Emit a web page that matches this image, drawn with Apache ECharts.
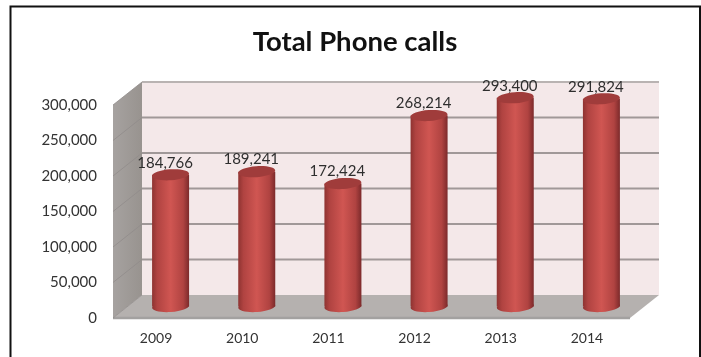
<!DOCTYPE html>
<html>
<head>
<meta charset="utf-8">
<title>Total Phone calls</title>
<style>
html, body { margin: 0; padding: 0; background: #fff; }
#chart { width: 701px; height: 357px; }
</style>
<script src="https://cdn.jsdelivr.net/npm/echarts@6/dist/echarts.min.js"></script>
</head>
<body>
<div id="chart"></div>
<script>
const years = ['2009', '2010', '2011', '2012', '2013', '2014'];
const calls = [184766, 189241, 172424, 268214, 293400, 291824];
const yTicks = [0, 50000, 100000, 150000, 200000, 250000, 300000];

// Oblique projection of the chart box: how far the back wall sits from the front plane.
const DEPTH_X = 29;
const DEPTH_Y = 23;
const BAR_WIDTH = 37;
const CAP_RY = 5.5;
const CAP_TILT = 0.07;

const fmt = (v) => v.toLocaleString('en-US');

// Walls, floor and one gridline per tick.
function renderRoom(params, api) {
  const g = params.coordSys;
  const y = api.coord([0, api.value(1)])[1];
  const children = [];
  const x0 = g.x, x1 = g.x + g.width;
  const top = g.y, bot = g.y + g.height;
  if (params.dataIndex === 0) {
    children.push({
      type: 'polygon',
      shape: { points: [[x0 + DEPTH_X, top - DEPTH_Y], [x1 + DEPTH_X, top - DEPTH_Y], [x1 + DEPTH_X, bot - DEPTH_Y], [x0 + DEPTH_X, bot - DEPTH_Y]] },
      style: { fill: '#f4e8e9' }
    }, {
      type: 'polygon',
      shape: { points: [[x0, top], [x0 + DEPTH_X, top - DEPTH_Y], [x0 + DEPTH_X, bot - DEPTH_Y], [x0, bot]] },
      style: { fill: { type: 'linear', x: 0, y: 0, x2: 1, y2: 0, colorStops: [{ offset: 0, color: '#a6a2a0' }, { offset: 1, color: '#98938f' }] } }
    }, {
      type: 'polygon',
      shape: { points: [[x0, bot], [x0 + DEPTH_X, bot - DEPTH_Y], [x1 + DEPTH_X, bot - DEPTH_Y], [x1, bot]] },
      style: { fill: '#b5b1af' }
    }, {
      type: 'line',
      shape: { x1: x0, y1: bot, x2: x1, y2: bot },
      style: { stroke: '#a3a1a0', lineWidth: 2.5 }
    });
  }
  children.push({
    type: 'line',
    shape: { x1: x0, y1: y, x2: x0 + DEPTH_X, y2: y - DEPTH_Y },
    style: { stroke: '#918c8a', lineWidth: 0.8 }
  });
  if (api.value(1) > 0) {
    children.push({
      type: 'line',
      shape: { x1: x0 + DEPTH_X, y1: y - DEPTH_Y, x2: x1 + DEPTH_X, y2: y - DEPTH_Y },
      style: { stroke: api.value(1) === 300000 ? '#b9b3b2' : '#a09898', lineWidth: 2 }
    });
  }
  return { type: 'group', children };
}

// Cylinder standing mid-way between the front plane and the back wall.
function renderCylinder(params, api) {
  const top = api.coord([api.value(0), api.value(1)]);
  const base = api.coord([api.value(0), 0]);
  const cx = top[0] + DEPTH_X / 2;
  const yTop = top[1] - DEPTH_Y / 2 - 0.5;
  const yBase = base[1] - DEPTH_Y / 2;
  const rx = BAR_WIDTH / 2;
  const body = {
    type: 'linear', x: 0, y: 0, x2: 1, y2: 0,
    colorStops: [
      { offset: 0, color: '#8e3331' },
      { offset: 0.14, color: '#b04341' },
      { offset: 0.5, color: '#d05652' },
      { offset: 0.84, color: '#b04341' },
      { offset: 1, color: '#7c2a2b' }
    ]
  };
  const cap = (cy, fill) => ({
    type: 'ellipse',
    shape: { cx: 0, cy: 0, rx: rx, ry: CAP_RY },
    x: cx, y: cy, rotation: CAP_TILT,
    style: { fill }
  });
  return {
    type: 'group',
    children: [
      cap(yBase, body),
      {
        type: 'rect',
        shape: { x: cx - rx, y: yTop, width: BAR_WIDTH, height: yBase - yTop },
        style: { fill: body }
      },
      cap(yTop, '#a03c3b'),
      {
        type: 'text',
        x: cx - 5.5, y: yTop - 12,
        style: {
          text: fmt(api.value(1)),
          fill: '#2e2e2e',
          font: '15px Lato',
          align: 'center',
          verticalAlign: 'middle'
        }
      }
    ]
  };
}

const chart = echarts.init(document.getElementById('chart'));
chart.setOption({
  animation: false,
  backgroundColor: '#ffffff',
  title: {
    text: 'Total Phone calls',
    left: 350, top: 23, textAlign: 'center',
    textStyle: { fontFamily: 'Lato', fontSize: 27.5, fontWeight: 'bold', color: '#111111' }
  },
  grid: { left: 113, right: 71, top: 105, bottom: 39 },
  xAxis: {
    type: 'category',
    data: years,
    axisLine: { show: false },
    axisTick: { show: false },
    axisLabel: { fontFamily: 'Lato', fontSize: 14, color: '#333333', margin: 13 }
  },
  yAxis: {
    type: 'value',
    min: 0, max: 300000, interval: 50000,
    axisLine: { show: false },
    axisTick: { show: false },
    splitLine: { show: false },
    axisLabel: { fontFamily: 'Lato', fontSize: 15, color: '#333333', margin: 16, formatter: fmt }
  },
  graphic: [{
    type: 'rect',
    shape: { x: 10.5, y: 6.5, width: 689.5, height: 360 },
    style: { fill: 'none', stroke: '#111111', lineWidth: 2 },
    silent: true
  }],
  series: [
    {
      type: 'custom', z: 1, clip: false,
      renderItem: renderRoom,
      encode: { x: 0, y: 1 },
      data: yTicks.map((t) => [0, t])
    },
    {
      type: 'custom', z: 2, clip: false,
      renderItem: renderCylinder,
      encode: { x: 0, y: 1 },
      data: calls.map((v, i) => [i, v])
    }
  ]
});
</script>
</body>
</html>
